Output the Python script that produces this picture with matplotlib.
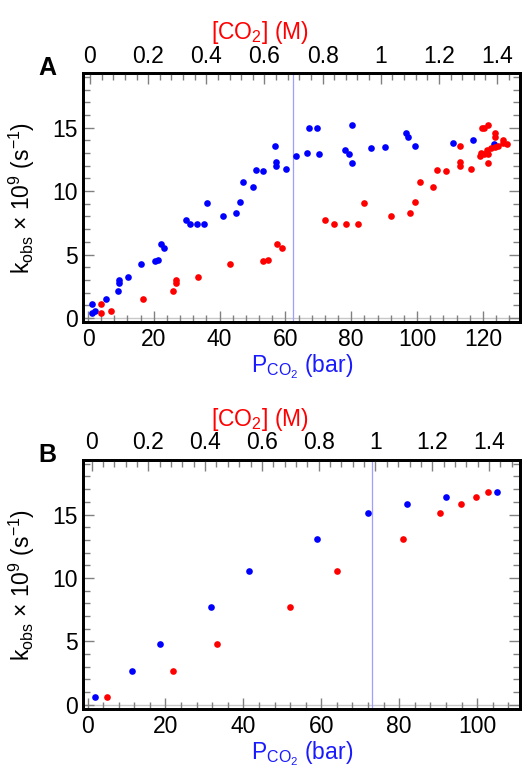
import numpy as np
import matplotlib
matplotlib.use("Agg")
import matplotlib.pyplot as plt
from matplotlib.ticker import MultipleLocator

plt.rcParams['font.family'] = ['Liberation Sans', 'DejaVu Sans']
plt.rcParams['mathtext.fontset'] = 'custom'
plt.rcParams['mathtext.rm'] = 'Liberation Sans'
plt.rcParams['mathtext.it'] = 'Liberation Sans:italic'

# panel A: same k_obs values plotted against pressure (blue) and concentration (red)
pA_bar = [1.1, 2.1, 1.1, 5.5, 9.0, 9.4, 9.4, 12.1, 16.1, 20.5, 21.2, 22.2, 23.1,
          29.7, 31.1, 33.0, 35.2, 36.1, 41.1, 45.1, 46.1, 47.1, 50.1, 51.1, 53.1,
          56.8, 57.1, 57.1, 60.2, 63.1, 66.5, 67.2, 69.7, 70.2, 78.0, 79.2, 80.1,
          80.1, 86.1, 90.2, 96.6, 97.2, 99.4, 111.0, 117.1, 123.5]
cA_M = [0.038, 0.072, 0.038, 0.181, 0.287, 0.296, 0.296, 0.373, 0.483, 0.596, 0.611,
        0.644, 0.660, 0.807, 0.840, 0.882, 0.922, 0.941, 1.034, 1.101, 1.118, 1.134,
        1.180, 1.194, 1.223, 1.271, 1.274, 1.274, 1.310, 1.340, 1.346, 1.347, 1.355,
        1.355, 1.367, 1.368, 1.369, 1.369, 1.380, 1.392, 1.393, 1.394, 1.404, 1.419,
        1.422, 1.433]
kA = [0.35, 0.56, 1.08, 1.5, 2.15, 2.73, 3.0, 3.2, 4.25, 4.47, 4.6, 5.85, 5.54,
      7.7, 7.44, 7.38, 7.43, 9.08, 8.0, 8.27, 9.16, 10.76, 10.3, 11.63, 11.6,
      13.6, 12.3, 11.97, 11.73, 12.8, 13.02, 15.0, 15.0, 12.94, 13.28, 12.97, 12.26,
      15.22, 13.41, 13.52, 14.62, 14.25, 13.57, 13.78, 14.07, 13.71]

# panel B
pB_bar = [1.9, 11.5, 18.5, 31.6, 41.5, 58.9, 72.1, 82.0, 92.0, 105.1]
cB_M = [0.053, 0.287, 0.442, 0.699, 0.866, 1.097, 1.227, 1.300, 1.354, 1.395]
kB = [0.6, 2.65, 4.76, 7.68, 10.52, 13.05, 15.1, 15.86, 16.36, 16.76]

vline_A = 62.2
vline_B = 73.1

W, H = 523, 769
FS = 16.5
fig = plt.figure(figsize=(W / 100, H / 100), dpi=100)


def panel(rect, p, c, k, vl, xlim, xlim_top, xmaj, letter):
    ax = fig.add_axes(rect)
    ax.axhline(0, color='#c8c8c8', lw=1, zorder=0)
    ax.axvline(vl, color='#9f9fff', lw=0.9, zorder=0)
    ax.plot(p, k, 'o', color='#0000ff', ms=4.8, mec='none')
    ax.set_xlim(*xlim)
    ax.set_ylim(-0.35, 19.3)
    ax.xaxis.set_major_locator(MultipleLocator(xmaj))
    ax.xaxis.set_minor_locator(MultipleLocator(4))
    ax.yaxis.set_major_locator(MultipleLocator(5))
    ax.yaxis.set_minor_locator(MultipleLocator(1))
    ax.tick_params(which='both', direction='in', top=False, right=True,
                   color='#808080', labelsize=FS, width=1)
    ax.tick_params(which='major', length=8, pad=4)
    ax.tick_params(which='minor', length=5)
    ax.set_xlabel(r'P$_{\mathrm{CO_2}}$ (bar)', color='#1a1aff', fontsize=FS, labelpad=1)
    ax.set_ylabel(r'k$_{\mathrm{obs}}$ $\times$ 10$^{9}$ (s$^{-1}$)', fontsize=FS)
    ax.yaxis.set_label_coords(-0.105, 0.5)

    axt = ax.twiny()
    axt.plot(c, k, 'o', color='#ff0000', ms=4.8, mec='none')
    axt.set_xlim(*xlim_top)
    axt.xaxis.set_minor_locator(MultipleLocator(0.04))
    axt.set_xticks(np.arange(0, 1.41, 0.2))
    axt.set_xticklabels(['0', '0.2', '0.4', '0.6', '0.8', '1', '1.2', '1.4'])
    axt.tick_params(which='both', direction='in', color='#808080', labelsize=FS, width=1)
    axt.tick_params(which='major', length=8, pad=4)
    axt.tick_params(which='minor', length=5)
    axt.set_xlabel(r'[CO$_2$] (M)', color='#ff0000', fontsize=FS)
    axt.xaxis.set_label_coords(0.405, 1.138)

    for a in (ax, axt):
        for s in a.spines.values():
            s.set_linewidth(2)
            s.set_color('black')

    ax.text(-0.083, 1.022, letter, transform=ax.transAxes, fontsize=18,
            fontweight='bold', ha='center', va='center')
    return ax


def rect(left, top, right, bottom):
    return [left / W, 1 - bottom / H, (right - left) / W, (bottom - top) / H]


panel(rect(83.3, 73.3, 520, 322.3), pA_bar, cA_M, kA, vline_A,
      (-1.43, 131.3), (-0.023, 1.479), 20, 'A')
panel(rect(83.3, 460, 520, 709.3), pB_bar, cB_M, kB, vline_B,
      (-1.1, 111.0), (-0.029, 1.509), 20, 'B')

fig.savefig('out.png', dpi=100)
